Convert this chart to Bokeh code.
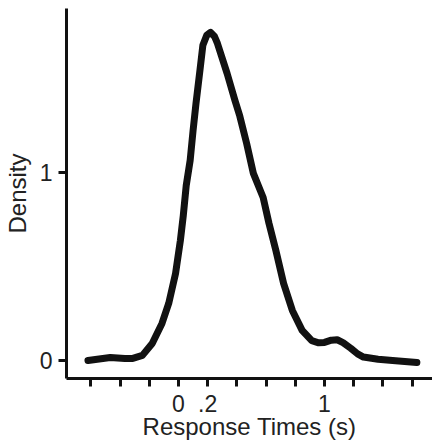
from bokeh.plotting import figure
from bokeh.models import FixedTicker, Range1d
from bokeh.embed import file_html
from bokeh.resources import INLINE

# Response time (s) and kernel density estimate
rt = [-0.62, -0.467, -0.367, -0.313, -0.247, -0.18, -0.113, -0.067, -0.02, 0.013,
      0.033, 0.053, 0.08, 0.1, 0.12, 0.147, 0.167, 0.193, 0.22, 0.247,
      0.267, 0.333, 0.387, 0.42, 0.467, 0.513, 0.58, 0.62, 0.667, 0.72,
      0.78, 0.847, 0.913, 0.96, 1.0, 1.047, 1.087, 1.127, 1.18, 1.227,
      1.267, 1.367, 1.467, 1.633]
density = [0.0, 0.016, 0.011, 0.011, 0.027, 0.09, 0.197, 0.303, 0.463, 0.638,
           0.771, 0.93, 1.064, 1.223, 1.367, 1.543, 1.676, 1.729, 1.745, 1.723,
           1.686, 1.527, 1.383, 1.30, 1.154, 0.995, 0.867, 0.729, 0.585, 0.41,
           0.266, 0.16, 0.105, 0.094, 0.096, 0.108, 0.11, 0.095, 0.065, 0.035,
           0.018, 0.006, 0.0, -0.011]

x_ticks = [-0.6, -0.4, -0.2, 0.0, 0.2, 0.4, 0.6, 0.8, 1.0, 1.2, 1.4, 1.6]
x_tick_labels = {0.0: "0", 0.2: ".2", 1.0: "1"}
y_ticks = [0, 1]

FONT = "Liberation Sans"
TXT = "#222222"

p = figure(width=432, height=442, output_backend="svg", toolbar_location=None,
           x_range=Range1d(-0.767, 1.74), y_range=Range1d(-0.096, 1.872),
           min_border_left=57, min_border_right=0, min_border_top=8, min_border_bottom=64)
p.outline_line_color = None
p.grid.visible = False
p.background_fill_color = "white"
p.border_fill_color = "white"

p.line(rt, density, line_color="#111111", line_width=7, line_join="round", line_cap="round")

# x axis
p.xaxis.ticker = FixedTicker(ticks=x_ticks, minor_ticks=[])
p.xaxis.major_label_overrides = {t: x_tick_labels.get(round(t, 1), "") for t in x_ticks}
p.xaxis.axis_label = "Response Times (s)"
# y axis
p.yaxis.ticker = FixedTicker(ticks=y_ticks, minor_ticks=[])
p.yaxis.axis_label = "Density"

for ax in (p.xaxis, p.yaxis):
    ax.axis_line_width = 3
    ax.axis_line_color = "#111111"
    ax.major_tick_line_width = 3
    ax.major_tick_line_color = "#111111"
    ax.major_tick_out = 8
    ax.major_tick_in = 0
    ax.minor_tick_line_color = None
    ax.major_label_text_font = FONT
    ax.major_label_text_font_size = "23px"
    ax.major_label_text_color = TXT
    ax.axis_label_text_font = FONT
    ax.axis_label_text_font_size = "24px"
    ax.axis_label_text_font_style = "normal"
    ax.axis_label_text_color = TXT

p.xaxis.major_label_standoff = 8
p.xaxis.axis_label_standoff = -2
p.yaxis.major_label_standoff = 6
p.yaxis.axis_label_standoff = 6

open("out.html", "w").write(file_html(p, INLINE))
